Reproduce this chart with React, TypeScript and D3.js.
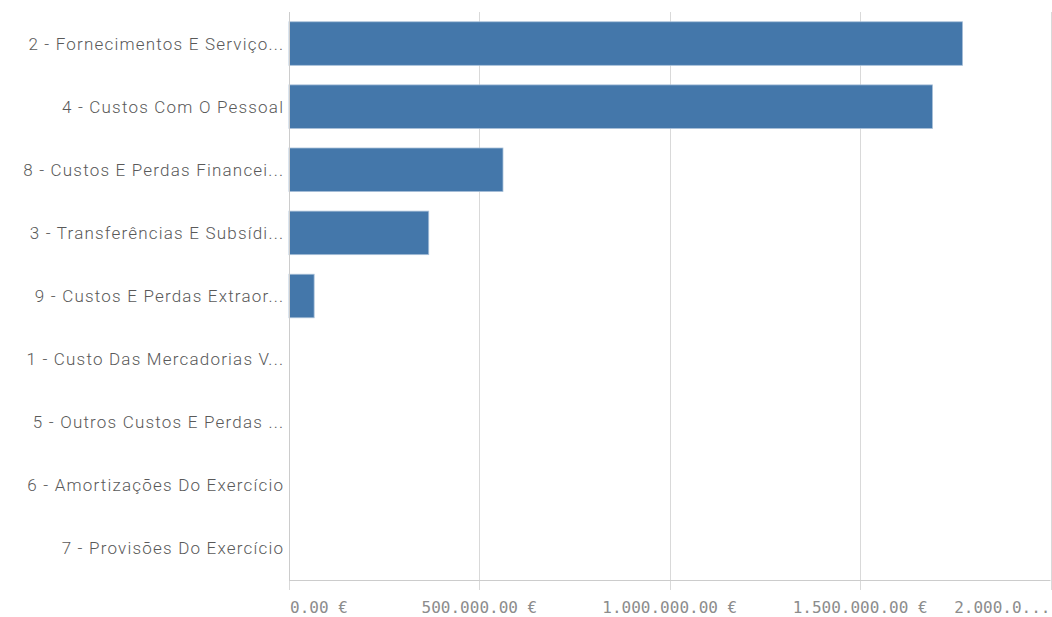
import React from "react";
import * as d3 from "d3";

const categories = [
  "2 - Fornecimentos E Serviço...",
  "4 - Custos Com O Pessoal",
  "8 - Custos E Perdas Financei...",
  "3 - Transferências E Subsídi...",
  "9 - Custos E Perdas Extraor...",
  "1 - Custo Das Mercadorias V...",
  "5 - Outros Custos E Perdas ...",
  "6 - Amortizações Do Exercício",
  "7 - Provisões Do Exercício",
];
const values = [1769000, 1690000, 562000, 367000, 66000, 0, 0, 0, 0];
const tickValues = [0, 500000, 1000000, 1500000, 2000000];
const tickLabels = ["0.00 €", "500.000.00 €", "1.000.000.00 €", "1.500.000.00 €", "2.000.0..."];

const W = 1052;
const H = 617;
const left = 289;
const right = 1050.5;
const top = 12;
const bottom = 580;

export default function App() {
  const x = d3.scaleLinear().domain([0, 2000000]).range([left, right]);
  const y = d3.scaleBand<string>().domain(categories).range([top, bottom]).paddingInner(0.31).paddingOuter(0.155);
  return (
    <svg width={W} height={H} style={{ position: "absolute", left: 0, top: 0 }}>
      <rect width={W} height={H} fill="#fff" />
      {tickValues.map((t, i) => (
        <line key={"g" + i} x1={Math.round(x(t)) + 0.5} x2={Math.round(x(t)) + 0.5} y1={top} y2={bottom + 10} stroke="#d9d9d9" strokeWidth={1} />
      ))}
      {categories.map((c, i) =>
        values[i] > 0 ? (
          <rect key={"b" + i} x={x(0)} y={y(c)!} width={x(values[i]) - x(0)} height={y.bandwidth()} fill="#4477aa" stroke="#a7bfd8" strokeWidth={0.8} />
        ) : null
      )}
      <line x1={left + 0.5} x2={left + 0.5} y1={top} y2={bottom} stroke="#cccccc" />
      <line x1={left} x2={right} y1={bottom + 0.5} y2={bottom + 0.5} stroke="#cccccc" />
      {categories.map((c, i) => (
        <text key={"c" + i} x={284.2} y={y(c)! + y.bandwidth() / 2} dy="0.35em" textAnchor="end" fontFamily="Roboto, 'Noto Sans', sans-serif" fontSize={17} fontWeight={300} letterSpacing={1.2} fill="#595959">
          {c}
        </text>
      ))}
      {tickValues.map((t, i) => (
        <text key={"t" + i} x={i === 0 ? left + 1 : i === tickValues.length - 1 ? right : x(t)} y={613} textAnchor={i === 0 ? "start" : i === tickValues.length - 1 ? "end" : "middle"} fontFamily="'DejaVu Sans Mono', monospace" fontSize={16} fill="#8c8c8c">
          {tickLabels[i]}
        </text>
      ))}
    </svg>
  );
}
